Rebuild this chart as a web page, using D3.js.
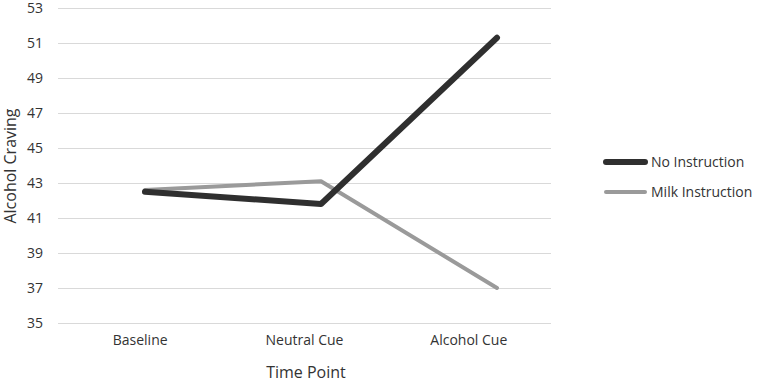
<!DOCTYPE html>
<html>
<head>
<meta charset="utf-8">
<script src="https://cdn.jsdelivr.net/npm/d3@7"></script>
<style>
  body { margin: 0; background: #fff; }
  text { font-family: "Open Sans", "Noto Sans", sans-serif; fill: #333; }
</style>
</head>
<body>
<div id="chart"></div>
<script>
// Data
var timePoints = ["Baseline", "Neutral Cue", "Alcohol Cue"];
var noInstruction = [42.5, 41.8, 51.3];
var milkInstruction = [42.6, 43.1, 37.0];
var yTicks = [35, 37, 39, 41, 43, 45, 47, 49, 51, 53];
var seriesNames = ["No Instruction", "Milk Instruction"];

var width = 760, height = 383;

var svg = d3.select("#chart").append("svg")
    .attr("width", width)
    .attr("height", height);

// Scales
var yScale = d3.scaleLinear()
    .domain([35, 53])
    .range([323, 8]);

// category labels sit in bands over the grid area
var xBand = d3.scaleBand()
    .domain(timePoints)
    .range([58, 551]);

// line points (they sit a bit right of the labels in the original)
var xPoint = d3.scalePoint()
    .domain(timePoints)
    .range([145, 497]);

// Gridlines
svg.append("g")
    .selectAll("line")
    .data(yTicks)
    .enter().append("line")
    .attr("x1", 58)
    .attr("x2", 551)
    .attr("y1", function(d) { return yScale(d) + 0.5; })
    .attr("y2", function(d) { return yScale(d) + 0.5; })
    .attr("stroke", "#d9d9d9")
    .attr("stroke-width", 1);

// Y axis
var yAxis = d3.axisLeft(yScale)
    .tickValues(yTicks)
    .tickSize(0)
    .tickPadding(0);
var yAxisGroup = svg.append("g")
    .attr("transform", "translate(43,0)")
    .call(yAxis);
yAxisGroup.select(".domain").remove();
yAxisGroup.selectAll("text")
    .style("font-size", "14px")
    .style("font-family", "'Open Sans', sans-serif")
    .attr("fill", "#333");

// X axis
var xAxis = d3.axisBottom(xBand).tickSize(0).tickPadding(0);
var xAxisGroup = svg.append("g")
    .attr("transform", "translate(0,335)")
    .call(xAxis);
xAxisGroup.select(".domain").remove();
xAxisGroup.selectAll("text")
    .style("font-size", "14px")
    .style("font-family", "'Open Sans', sans-serif")
    .attr("fill", "#333");

// Axis titles
svg.append("text")
    .attr("transform", "translate(16,166) rotate(-90)")
    .style("text-anchor", "middle")
    .style("font-size", "16px")
    .text("Alcohol Craving");

svg.append("text")
    .attr("x", 306)
    .attr("y", 378)
    .style("text-anchor", "middle")
    .style("font-size", "16px")
    .text("Time Point");

// Lines
var line = d3.line()
    .x(function(d, i) { return xPoint(timePoints[i]); })
    .y(function(d) { return yScale(d); });

var series = [
    {name: seriesNames[0], values: noInstruction, color: "#2f2f2f", w: 6},
    {name: seriesNames[1], values: milkInstruction, color: "#9a9a9a", w: 4}
];

// draw milk first so the black line is on top
svg.append("path")
    .datum(series[1].values)
    .attr("d", line)
    .attr("fill", "none")
    .attr("stroke", series[1].color)
    .attr("stroke-width", series[1].w)
    .attr("stroke-linecap", "round")
    .attr("stroke-linejoin", "round");

svg.append("path")
    .datum(series[0].values)
    .attr("d", line)
    .attr("fill", "none")
    .attr("stroke", series[0].color)
    .attr("stroke-width", series[0].w)
    .attr("stroke-linecap", "round")
    .attr("stroke-linejoin", "round");

// Legend
var legend = svg.append("g")
    .selectAll("g")
    .data(series)
    .enter().append("g")
    .attr("transform", function(d, i) { return "translate(606," + (162 + i * 30) + ")"; });

legend.append("line")
    .attr("x1", 0)
    .attr("x2", 39)
    .attr("stroke", function(d) { return d.color; })
    .attr("stroke-width", function(d) { return d.w; })
    .attr("stroke-linecap", "round");

legend.append("text")
    .attr("x", 45)
    .attr("dy", "0.35em")
    .style("font-size", "14px")
    .text(function(d) { return d.name; });
</script>
</body>
</html>
